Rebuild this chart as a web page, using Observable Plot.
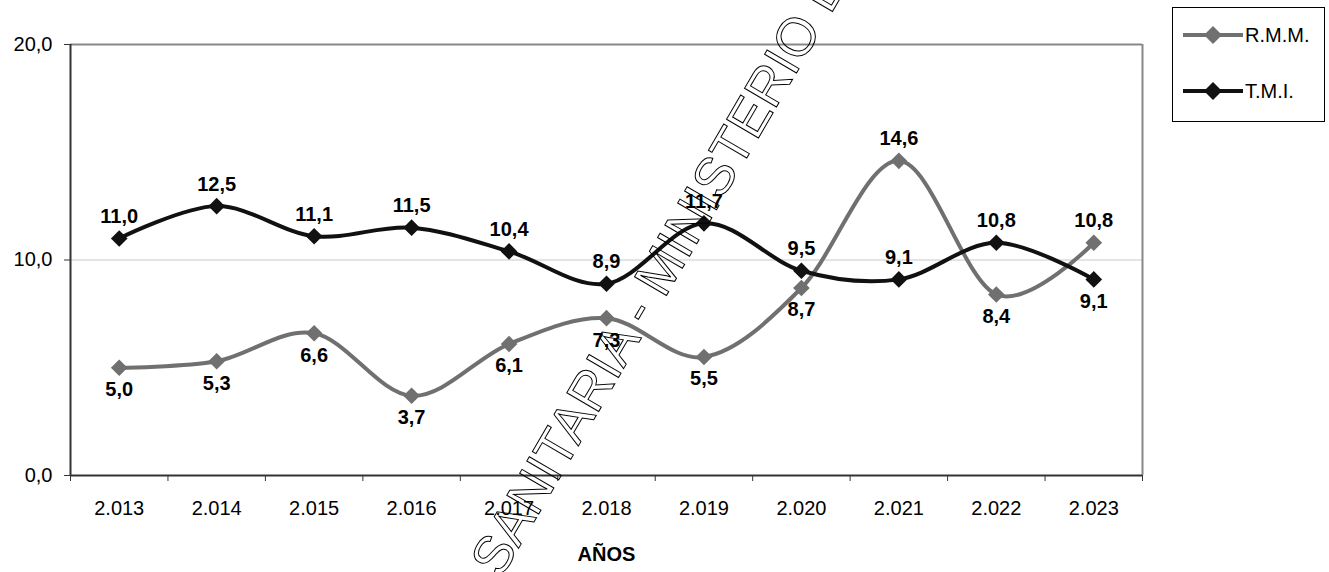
<!DOCTYPE html>
<html>
<head>
<meta charset="utf-8">
<script src="https://cdn.jsdelivr.net/npm/d3@7"></script>
<script src="https://cdn.jsdelivr.net/npm/@observablehq/plot@0.6"></script>
<style>
  body { margin: 0; background: #fff; }
  #wrap { position: relative; width: 1329px; height: 572px; font-family: "Liberation Sans", Arial, sans-serif; overflow: hidden; }
  #legend { position: absolute; left: 1172px; top: 7px; width: 153px; height: 115px; border: 1px solid #000; box-sizing: border-box; background: #fff; }
  .item { position: absolute; left: 10px; height: 24px; display: flex; align-items: center; font-size: 20px; color: #000; }
  .item svg { display: block; margin-right: 2px; }
</style>
</head>
<body>
<div id="wrap"></div>
<script>
// ---- data ----
const years = ["2.013","2.014","2.015","2.016","2.017","2.018","2.019","2.020","2.021","2.022","2.023"];
const rmm = [5.0, 5.3, 6.6, 3.7, 6.1, 7.3, 5.5, 8.7, 14.6, 8.4, 10.8];
const tmi = [11.0, 12.5, 11.1, 11.5, 10.4, 8.9, 11.7, 9.5, 9.1, 10.8, 9.1];
const rmmLabelSide = ["below","below","below","below","below","below","below","below","above","below","above"];
const tmiLabelSide = ["above","above","above","above","above","above","above","above","above","above","below"];
const seriesNames = ["R.M.M.", "T.M.I."];
const yTicks = [0, 10, 20];
const axisTitle = "AÑOS";
const watermark = "SANITARIA - MINISTERIO DE SALUD";

// ---- build tables ----
const colors = {"R.M.M.": "#707070", "T.M.I.": "#111111"};
const rows = [];
years.forEach((yr, i) => {
  rows.push({i, year: yr, series: seriesNames[0], value: rmm[i], side: rmmLabelSide[i]});
  rows.push({i, year: yr, series: seriesNames[1], value: tmi[i], side: tmiLabelSide[i]});
});
const fmt = v => v.toFixed(1).replace(".", ",");
const idx = years.map((_, i) => i);
const bounds = d3.range(years.length + 1).map(k => k - 0.5);
const font = "'Liberation Sans', Arial, sans-serif";

const plot = Plot.plot({
  width: 1329,
  height: 572,
  marginLeft: 70,
  marginRight: 187,
  marginTop: 44,
  marginBottom: 97,
  style: {fontFamily: font, fontSize: "20px", background: "#fff", color: "#000"},
  x: {type: "linear", domain: [-0.5, years.length - 0.5]},
  y: {domain: [0, 20]},
  marks: [
    Plot.ruleY([10], {stroke: "#c8c8c8", strokeWidth: 1}),
    Plot.ruleY([20], {stroke: "#888", strokeWidth: 2}),
    Plot.ruleX([years.length - 0.5], {stroke: "#888", strokeWidth: 2}),
    Plot.axisY({ticks: yTicks, tickFormat: fmt, tickSize: 6, tickPadding: 12, stroke: "#333", label: null, fontSize: 20}),
    Plot.axisX({ticks: bounds, tickFormat: () => "", tickSize: 6, stroke: "#333", label: null}),
    Plot.axisX({ticks: idx, tickFormat: i => years[i], tickSize: 0, tickPadding: 25, label: null, fontSize: 20}),
    Plot.ruleX([-0.5], {stroke: "#333", strokeWidth: 2}),
    Plot.ruleY([0], {stroke: "#333", strokeWidth: 2}),
    Plot.line(rows, {x: "i", y: "value", z: "series", stroke: d => colors[d.series], curve: "cardinal", tension: 0, strokeWidth: 4}),
    Plot.dot(rows, {x: "i", y: "value", symbol: "diamond2", r: 7.5, fill: d => colors[d.series], stroke: "none"}),
    Plot.text(rows.filter(d => d.side === "above"), {x: "i", y: "value", text: d => fmt(d.value), dy: -22, fontWeight: "bold", fontSize: 20, fill: "#000"}),
    Plot.text(rows.filter(d => d.side === "below"), {x: "i", y: "value", text: d => fmt(d.value), dy: 22, fontWeight: "bold", fontSize: 20, fill: "#000"}),
    Plot.text([axisTitle], {frameAnchor: "bottom", dy: 85, fontWeight: "bold", fontSize: 20, fill: "#000"})
  ]
});

const wrap = document.getElementById("wrap");
wrap.appendChild(plot);

// watermark (outlined rotated text)
d3.select(plot).append("text")
  .attr("transform", "translate(484,570) rotate(-59.7)")
  .attr("text-anchor", "start")
  .attr("dominant-baseline", "central")
  .attr("font-family", font)
  .attr("font-size", 53.8)
  .attr("fill", "none")
  .attr("stroke", "#000")
  .attr("stroke-width", 1)
  .text(watermark);

// legend
const legend = document.createElement("div");
legend.id = "legend";
seriesNames.forEach((name, k) => {
  const it = document.createElement("div");
  it.className = "item";
  it.style.top = (k === 0 ? 15 : 71) + "px";
  const c = colors[name];
  it.innerHTML = `<svg width="60" height="24"><line x1="0" y1="12" x2="60" y2="12" stroke="${c}" stroke-width="4"/><path d="M30,3 L39,12 L30,21 L21,12 Z" fill="${c}"/></svg><span>${name}</span>`;
  legend.appendChild(it);
});
wrap.appendChild(legend);
</script>
</body>
</html>
